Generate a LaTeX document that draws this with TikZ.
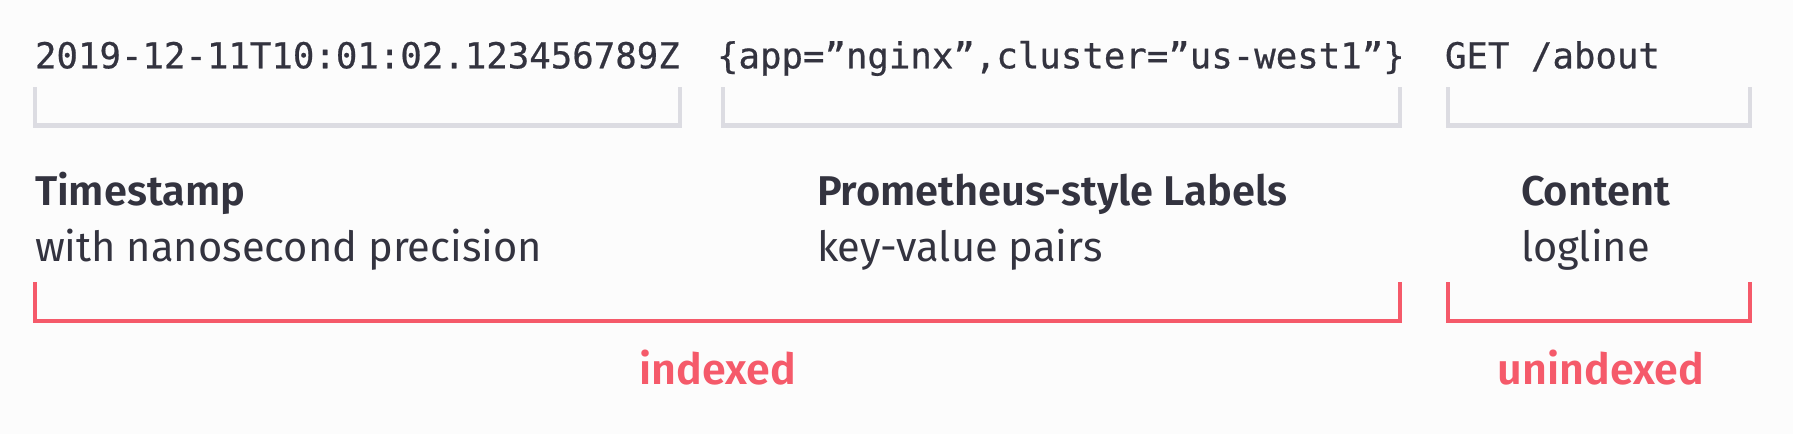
\documentclass[tikz,border=0pt]{standalone}
\usepackage{xcolor}
\usepackage{fontspec}
\setmainfont{Fira Sans}[BoldFont={Fira Sans SemiBold}]
\newfontfamily\codefont{DejaVu Sans Mono}[FakeBold=0.6]
\usepackage{tikz}
\usetikzlibrary{positioning}

\definecolor{ink}{HTML}{33333F}
\definecolor{bracketgray}{HTML}{DCDCE2}
\definecolor{lokired}{HTML}{F55A6A}
\definecolor{paper}{HTML}{FCFCFC}

\begin{document}
\begin{tikzpicture}[x=1pt,y=-1pt,line width=4.6pt,line cap=butt,line join=miter]

                \tikzset{every node/.style={inner sep=0pt, outer sep=0pt, text=ink},
                         code/.style={anchor=base west, font=\codefont\fontsize{35.7}{40}\selectfont},
                         head/.style={anchor=base west, font=\bfseries\fontsize{41.6}{46}\selectfont},
                         sub/.style={anchor=base west, font=\fontsize{41.6}{46}\selectfont},
                         tag/.style={anchor=base, text=lokired, font=\bfseries\fontsize{43}{46}\selectfont},
                         graybracket/.style={draw=bracketgray},
                         redbracket/.style={draw=lokired}}

                \fill[paper] (0,0) rectangle (1793,434);
                \useasboundingbox (0,0) rectangle (1793,434);

                \node[code] (TS) at (35,68.3) {2019-12-11T10:01:02.123456789Z};
                \node[code] (LB) at (717,68.3) {\{app=”nginx”,cluster=”us-west1”\}};
                \node[code] (LN) at (1445,68.3) {GET /about};

                \draw[graybracket] (35,87) -- (35,125.7) -- (680,125.7) -- (680,87);
                \draw[graybracket] (723,87) -- (723,125.7) -- (1400,125.7) -- (1400,87);
                \draw[graybracket] (1448,87) -- (1448,125.7) -- (1750,125.7) -- (1750,87);

                \node[head] (TSH) at (35,205.7) {Timestamp};
                \node[sub] (TSS) at ([yshift=-56pt]TSH.base west) {with nanosecond precision};
                \node[head] (LBH) at (817,205.7) {Prometheus-style Labels};
                \node[sub] (LBS) at ([yshift=-56pt]LBH.base west) {key-value pairs};
                \node[head] (LNH) at (1521,205.7) {Content};
                \node[sub] (LNS) at ([yshift=-56pt]LNH.base west) {logline};

                \draw[redbracket] (35,282) -- (35,321) -- (1400,321) -- (1400,282);
                \draw[redbracket] (1448,282) -- (1448,321) -- (1750,321) -- (1750,282);

                \node[tag] (IDX) at (718,384) {indexed};
                \node[tag] (UNIDX) at (1601,384) {unindexed};
            \end{tikzpicture}
\end{document}
